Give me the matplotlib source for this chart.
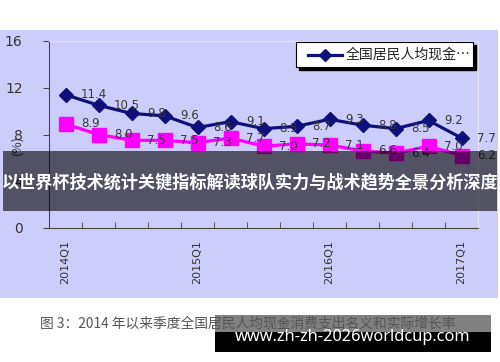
import matplotlib.pyplot as plt
from matplotlib.patches import Rectangle
from matplotlib.lines import Line2D

plt.rcParams['font.family'] = ['Noto Sans CJK SC', 'DejaVu Sans']

# quarters 2014Q1 .. 2017Q1
quarters = ['2014Q1', '2014Q2', '2014Q3', '2014Q4',
            '2015Q1', '2015Q2', '2015Q3', '2015Q4',
            '2016Q1', '2016Q2', '2016Q3', '2016Q4', '2017Q1']
nominal = [11.4, 10.5, 9.8, 9.6, 8.6, 9.1, 8.5, 8.7, 9.3, 8.8, 8.5, 9.2, 7.7]
real = [8.9, 8.0, 7.5, 7.5, 7.3, 7.7, 7.0, 7.2, 7.1, 6.6, 6.4, 7.0, 6.2]
yticks = [0, 4, 8, 12, 16]
legend_label = '全国居民人均现金…'
caption = '图 3：2014 年以来季度全国居民人均现金消费支出名义和实际增长率'
banner = '以世界杯技术统计关键指标解读球队实力与战术趋势全景分析深度'
watermark = 'www.zh-zh-2026worldcup.com'

W, H = 500, 362
fig = plt.figure(figsize=(W / 100, H / 100), dpi=100)
lav = '#cdcdfb'

# lavender panel behind the chart
fig.add_artist(Rectangle((0, 1 - 298 / H), 498 / W, 268 / H,
                         transform=fig.transFigure, facecolor=lav,
                         edgecolor='none', zorder=-10))

ax = fig.add_axes([49 / W, 1 - 228 / H, 429 / W, 187 / H])
ax.set_facecolor(lav)
x = list(range(len(quarters)))

ax.plot(x, nominal, color='#10107a', lw=2.3, marker='D', ms=7.5, zorder=3)
ax.plot(x, real, color='#ff00ff', lw=2.3, marker='s', ms=10, zorder=2)

for i in x:
    ax.annotate(f'{nominal[i]:.1f}', (i, nominal[i]), xytext=(11, 0),
                textcoords='offset points', va='center', ha='left',
                fontsize=8.5, color='#383838', family='DejaVu Sans',
                annotation_clip=False, zorder=4)
    ax.annotate(f'{real[i]:.1f}', (i, real[i]), xytext=(11, 0),
                textcoords='offset points', va='center', ha='left',
                fontsize=8.5, color='#383838', family='DejaVu Sans',
                annotation_clip=False, zorder=4)

ax.set_xlim(-0.5, len(quarters) - 0.5)
ax.set_ylim(0, 16)
ax.set_yticks(yticks)
ax.set_yticklabels([str(v) for v in yticks], family='DejaVu Sans',
                   fontsize=10, color='#333333')
ax.tick_params(axis='y', length=4, pad=15, color='#444444')
ax.set_xticks([0, 4, 8, 12])
ax.set_xticklabels([quarters[i] for i in [0, 4, 8, 12]], rotation=90,
                   family='DejaVu Sans', fontsize=8, color='#333333')
ax.tick_params(axis='x', length=0, pad=9)
ax.set_xticks([i + 0.5 for i in range(-1, len(quarters))], minor=True)
ax.tick_params(axis='x', which='minor', direction='in', length=4,
               color='#444444')
for s in ['left', 'bottom']:
    ax.spines[s].set_color('#444444')
for s in ['top', 'right']:
    ax.spines[s].set_color('#e4e4f4')

fig.text(17 / W, 1 - 145 / H, '(%)', rotation=90, ha='center', va='center',
         fontsize=9, color='#333333')

# legend box with hard black shadow
lx0, ly0, lw_, lh = 296, 42, 177, 25
fig.add_artist(Rectangle((lx0 / W + 3 / W, 1 - (ly0 + lh + 3) / H), lw_ / W, lh / H,
                         transform=fig.transFigure, facecolor='black',
                         edgecolor='black', zorder=2))
fig.add_artist(Rectangle((lx0 / W, 1 - (ly0 + lh) / H), lw_ / W, lh / H,
                         transform=fig.transFigure, facecolor='white',
                         edgecolor='black', lw=0.8, zorder=2.1))
fig.add_artist(Line2D([308 / W, 342 / W], [1 - 55 / H, 1 - 55 / H],
                      transform=fig.transFigure, color='#10107a', lw=2.3,
                      zorder=2.2))
fig.add_artist(Line2D([325 / W], [1 - 55 / H], transform=fig.transFigure,
                      color='#10107a', marker='D', ms=6, zorder=2.3))
fig.text(346 / W, 1 - 55 / H, legend_label, ha='left', va='center',
         fontsize=10, color='#222222', zorder=2.4)

fig.text(40 / W, 1 - 324 / H, caption, ha='left', va='center',
         fontsize=9.9, color='#555555')

# dark overlay banner
fig.add_artist(Rectangle((3 / W, 1 - 211 / H), 494 / W, 60 / H,
                         transform=fig.transFigure, facecolor='black',
                         alpha=0.6, edgecolor='none', zorder=5))
fig.text(250 / W, 1 - 182 / H, banner, ha='center', va='center',
         fontsize=12.3, fontweight='bold', color='white', zorder=6)

# watermark
fig.add_artist(Rectangle((215 / W, 1 - 352 / H), 276 / W, 37 / H,
                         transform=fig.transFigure, facecolor='#555555',
                         alpha=0.75, edgecolor='none', zorder=5))
fig.add_artist(Rectangle((215 / W, 1 - 352 / H), 276 / W, 20 / H,
                         transform=fig.transFigure, facecolor='black',
                         edgecolor='none', zorder=5.5))
fig.text(353 / W, 1 - 337 / H, watermark, ha='center', va='center',
         fontsize=11.8, fontweight='bold', color='white',
         family='Noto Sans', zorder=6)

fig.savefig('out.png', dpi=100)
